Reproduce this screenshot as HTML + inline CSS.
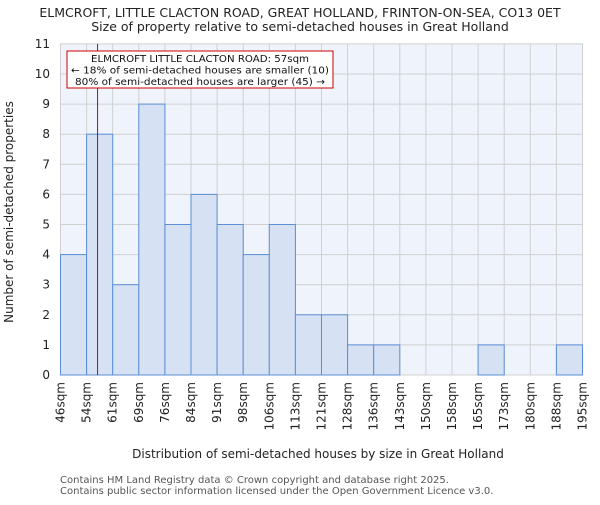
<!DOCTYPE html>
<html><head><meta charset="utf-8"><style>
body{margin:0;background:#fff}
svg{font-family:"DejaVu Sans","Liberation Sans",sans-serif}
</style></head><body>
<svg width="600" height="500">
<text x="300" y="17" text-anchor="middle" font-size="12.5" fill="#222">ELMCROFT, LITTLE CLACTON ROAD, GREAT HOLLAND, FRINTON-ON-SEA, CO13 0ET</text>
<text x="300" y="31" text-anchor="middle" font-size="12.5" fill="#222">Size of property relative to semi-detached houses in Great Holland</text>
<rect x="60" y="44" width="523" height="331" fill="#eef3fc"/>
<g id="grid"></g><g id="bars"></g><g id="axes"></g>
<line id="marker" y1="44" y2="375" stroke="#cc0000" stroke-width="1"/>
<g>
<rect x="67" y="51" width="266" height="37" fill="#fff" stroke="#cc0000" stroke-width="1"/>
<text x="200" y="62" text-anchor="middle" font-size="10" textLength="218" lengthAdjust="spacingAndGlyphs" fill="#111">ELMCROFT LITTLE CLACTON ROAD: 57sqm</text>
<text x="200" y="73.5" text-anchor="middle" font-size="10" textLength="258" lengthAdjust="spacingAndGlyphs" fill="#111">← 18% of semi-detached houses are smaller (10)</text>
<text x="200" y="85" text-anchor="middle" font-size="10" textLength="250" lengthAdjust="spacingAndGlyphs" fill="#111">80% of semi-detached houses are larger (45) →</text>
</g>
<text transform="translate(13,212) rotate(-90)" text-anchor="middle" font-size="12" fill="#222">Number of semi-detached properties</text>
<text x="318" y="458" text-anchor="middle" font-size="12" fill="#222">Distribution of semi-detached houses by size in Great Holland</text>
<text x="60" y="483" font-size="10" fill="#555">Contains HM Land Registry data © Crown copyright and database right 2025.</text>
<text x="60" y="494" font-size="10" fill="#555">Contains public sector information licensed under the Open Government Licence v3.0.</text>
</svg>
<script>
const tickLabels=["46sqm","54sqm","61sqm","69sqm","76sqm","84sqm","91sqm","98sqm","106sqm","113sqm","121sqm","128sqm","136sqm","143sqm","150sqm","158sqm","165sqm","173sqm","180sqm","188sqm","195sqm"];
const counts=[4,8,3,9,5,6,5,4,5,2,2,1,1,0,0,0,1,0,0,1];
const yTicks=[0,1,2,3,4,5,6,7,8,9,10,11];
const markerBin=1.42;
const X0=60.5,BW=26.1,Y0=375,YU=30.1;
const xs=i=>X0+i*BW, ys=v=>Y0-v*YU;
const NS="http://www.w3.org/2000/svg";
function mk(t,a,p){const e=document.createElementNS(NS,t);for(const k in a)e.setAttribute(k,a[k]);p.appendChild(e);return e;}
const grid=document.getElementById('grid'),bars=document.getElementById('bars'),axes=document.getElementById('axes');
yTicks.forEach(v=>{
 const l=mk('line',{x1:60,x2:583,y1:ys(v),y2:ys(v),stroke:'#d0d0d0'},grid);
 
 
 const t=mk('text',{x:50,y:ys(v)+4,'text-anchor':'end','font-size':12,fill:'#222'},axes);
 t.textContent=v;
 
 
});
tickLabels.forEach((s,i)=>{
 const l=mk('line',{x1:xs(i),x2:xs(i),y1:44,y2:375,stroke:'#d0d0d0'},grid);
 
 
 const t=mk('text',{transform:`translate(${xs(i)+4},${382}) rotate(-90)`,'text-anchor':'end','font-size':12,fill:'#222'},axes);
 t.textContent=s;
 
 
});
counts.forEach((c,i)=>{
 if(c<=0)return;
 const r=mk('rect',{x:xs(i),y:ys(c),width:BW,height:c*YU,fill:'#d6e1f4',stroke:'#5b8fd6','stroke-width':1},bars);
 
 
});
const m=document.getElementById('marker');m.setAttribute('x1',xs(markerBin));m.setAttribute('x2',xs(markerBin));
</script>
</body></html>
